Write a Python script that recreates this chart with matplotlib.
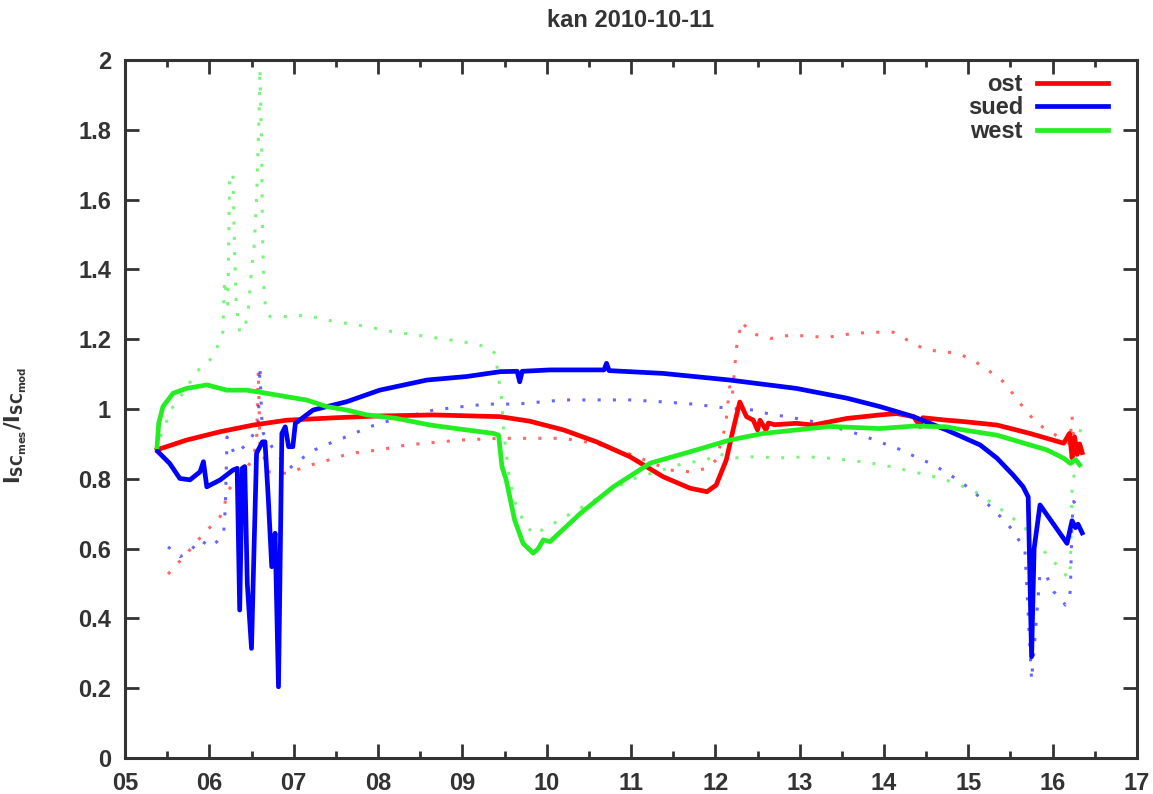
import numpy as np
import matplotlib
matplotlib.use("Agg")
import matplotlib.pyplot as plt
from matplotlib.ticker import MultipleLocator, FuncFormatter

# hours of day, ratio I_SC measured / modelled
ost_t = [5.38, 5.73, 6.13, 6.52, 6.92, 7.5, 8.0, 8.66, 9.45, 9.8, 10.2, 10.59, 10.99,
         11.38, 11.7, 11.9, 12.01, 12.13, 12.21, 12.29, 12.37, 12.45, 12.5, 12.53, 12.6,
         12.63, 12.7, 12.96, 13.16, 13.56, 13.95, 14.15, 14.35, 14.43, 14.46, 14.74,
         14.94, 15.34, 15.73, 15.93, 16.13, 16.2, 16.23, 16.26, 16.29, 16.32, 16.35]
ost_v = [0.883, 0.911, 0.935, 0.954, 0.968, 0.975, 0.98, 0.983, 0.978, 0.965, 0.94, 0.906,
         0.863, 0.806, 0.773, 0.763, 0.782, 0.854, 0.94, 1.02, 0.978, 0.968, 0.94, 0.968,
         0.94, 0.96, 0.955, 0.959, 0.954, 0.973, 0.983, 0.987, 0.978, 0.95, 0.975, 0.968,
         0.964, 0.954, 0.93, 0.916, 0.902, 0.93, 0.86, 0.92, 0.87, 0.9, 0.875]

sued_t = [5.39, 5.53, 5.65, 5.77, 5.89, 5.93, 5.97, 6.13, 6.28, 6.33, 6.36, 6.39, 6.42,
          6.45, 6.5, 6.53, 6.56, 6.63, 6.66, 6.70, 6.74, 6.78, 6.82, 6.86, 6.90, 6.94,
          6.99, 7.02, 7.23, 7.63, 8.02, 8.58, 9.05, 9.45, 9.65, 9.68, 9.71, 10.04, 10.68,
          10.71, 10.74, 11.38, 12.17, 12.96, 13.56, 13.95, 14.35, 14.74, 15.14, 15.34,
          15.53, 15.65, 15.71, 15.75, 15.78, 15.85, 16.01, 16.17, 16.23, 16.27, 16.3, 16.35]
sued_v = [0.878, 0.844, 0.801, 0.797, 0.82, 0.849, 0.777, 0.797, 0.825, 0.83, 0.424, 0.83,
          0.835, 0.5, 0.314, 0.6, 0.873, 0.906, 0.906, 0.74, 0.548, 0.644, 0.204, 0.93,
          0.949, 0.892, 0.892, 0.959, 0.997, 1.021, 1.054, 1.083, 1.093, 1.107, 1.108,
          1.078, 1.108, 1.112, 1.112, 1.131, 1.11, 1.102, 1.083, 1.059, 1.031, 1.007,
          0.978, 0.94, 0.897, 0.859, 0.811, 0.777, 0.748, 0.29, 0.6, 0.725, 0.67, 0.615,
          0.68, 0.66, 0.67, 0.645]

west_t = [5.38, 5.40, 5.45, 5.57, 5.73, 5.97, 6.21, 6.44, 6.68, 6.92, 7.15, 7.39, 7.63,
          7.87, 8.22, 8.62, 9.05, 9.37, 9.43, 9.47, 9.52, 9.62, 9.72, 9.84, 9.9, 9.96,
          10.04, 10.4, 10.79, 11.23, 11.78, 12.17, 12.57, 12.96, 13.36, 13.95, 14.35,
          14.74, 14.94, 15.34, 15.73, 15.93, 16.13, 16.21, 16.27, 16.32]
west_v = [0.892, 0.959, 1.007, 1.045, 1.059, 1.069, 1.054, 1.054, 1.045, 1.035, 1.026,
          1.007, 0.997, 0.983, 0.973, 0.954, 0.94, 0.93, 0.925, 0.835, 0.797, 0.682, 0.615,
          0.587, 0.6, 0.625, 0.62, 0.701, 0.777, 0.845, 0.883, 0.911, 0.93, 0.94, 0.95,
          0.944, 0.951, 0.949, 0.94, 0.925, 0.897, 0.883, 0.859, 0.844, 0.855, 0.84]

# second (dotted) data set
ost2_t = [5.51, 5.59, 5.75, 5.95, 6.11, 6.17, 6.21, 6.3, 6.4, 6.5, 6.56, 6.58, 6.6, 6.7,
          6.94, 7.13, 7.35, 7.67, 8.02, 8.34, 8.74, 9.05, 9.45, 9.92, 10.2, 10.6, 11.0,
          11.46, 11.7, 11.9, 12.01, 12.12, 12.17, 12.2, 12.25, 12.31, 12.43, 12.65, 12.9,
          13.32, 13.56, 13.83, 14.11, 14.35, 14.5, 14.74, 14.92, 15.08, 15.32, 15.46,
          15.55, 15.71, 15.81, 15.91, 16.13, 16.2, 16.23, 16.26, 16.31]
ost2_v = [0.527, 0.548, 0.591, 0.648, 0.684, 0.71, 0.763, 0.79, 0.82, 0.85, 0.9, 1.11,
          0.9, 0.82, 0.815, 0.835, 0.849, 0.873, 0.883, 0.897, 0.906, 0.912, 0.916, 0.916,
          0.916, 0.9, 0.87, 0.825, 0.82, 0.83, 0.854, 0.95, 1.064, 1.035, 1.175, 1.25,
          1.217, 1.202, 1.212, 1.205, 1.214, 1.22, 1.22, 1.188, 1.169, 1.164, 1.155, 1.136,
          1.097, 1.069, 1.035, 0.988, 0.959, 0.944, 0.911, 0.9, 0.978, 0.88, 0.854]

sued2_t = [5.51, 5.65, 5.75, 5.89, 6.01, 6.09, 6.17, 6.19, 6.21, 6.3, 6.45, 6.58, 6.6,
           6.62, 6.64, 6.8, 6.95, 7.07, 7.25, 7.45, 7.67, 7.9, 8.1, 8.34, 8.66, 8.97,
           9.29, 9.64, 10.2, 10.59, 10.99, 11.34, 11.74, 12.15, 12.45, 12.65, 12.85,
           13.16, 13.58, 13.78, 13.99, 14.19, 14.39, 14.59, 14.78, 14.88, 15.06, 15.24,
           15.4, 15.54, 15.61, 15.67, 15.75, 15.85, 15.93, 16.01, 16.11, 16.15, 16.19,
           16.21, 16.23, 16.25, 16.33]
sued2_v = [0.605, 0.577, 0.587, 0.625, 0.605, 0.62, 0.644, 0.72, 0.92, 0.87, 0.9, 0.95,
           1.121, 0.978, 0.93, 0.87, 0.83, 0.854, 0.883, 0.904, 0.925, 0.949, 0.964, 0.978,
           0.997, 1.006, 1.014, 1.014, 1.026, 1.026, 1.026, 1.021, 1.014, 1.002, 0.997,
           0.985, 0.978, 0.964, 0.937, 0.921, 0.902, 0.884, 0.861, 0.84, 0.811, 0.797,
           0.763, 0.725, 0.687, 0.649, 0.62, 0.6, 0.223, 0.529, 0.52, 0.477, 0.453, 0.438,
           0.453, 0.48, 0.68, 0.735, 0.706]

west2_t = [5.42, 5.55, 5.7, 5.85, 6.05, 6.16, 6.18, 6.22, 6.24, 6.28, 6.3, 6.32, 6.36,
           6.42, 6.46, 6.5, 6.53, 6.56, 6.59, 6.6, 6.62, 6.63, 6.65, 6.67, 6.72, 7.0,
           7.13, 7.39, 7.63, 7.87, 8.14, 8.54, 8.85, 9.13, 9.33, 9.39, 9.47, 9.49, 9.54,
           9.56, 9.64, 9.74, 9.85, 9.98, 10.5, 10.99, 11.62, 11.9, 12.01, 12.23, 12.45,
           12.77, 13.08, 13.3, 13.52, 13.73, 13.95, 14.17, 14.7, 14.9, 15.12, 15.46,
           15.63, 15.71, 15.85, 16.05, 16.19, 16.21, 16.23, 16.34]
west2_v = [0.92, 1.0, 1.05, 1.107, 1.15, 1.22, 1.37, 1.3, 1.67, 1.675, 1.45, 1.3, 1.22,
           1.23, 1.28, 1.4, 1.46, 1.6, 1.85, 1.976, 1.75, 1.5, 1.333, 1.279, 1.265, 1.265,
           1.27, 1.255, 1.245, 1.236, 1.223, 1.209, 1.198, 1.188, 1.174, 1.158, 1.021,
           0.935, 0.835, 0.797, 0.72, 0.672, 0.64, 0.658, 0.73, 0.797, 0.844, 0.854,
           0.873, 0.86, 0.863, 0.86, 0.863, 0.86, 0.855, 0.849, 0.841, 0.83, 0.8, 0.782,
           0.758, 0.7, 0.668, 0.649, 0.605, 0.553, 0.515, 0.548, 0.768, 0.959]

red, blue, green = "#ff0000", "#0000ff", "#22ee22"
ink = "#333333"

plt.rcParams["font.family"] = ["Liberation Sans", "DejaVu Sans"]
plt.rcParams["font.weight"] = "bold"
plt.rcParams["mathtext.default"] = "regular"
fig = plt.figure(figsize=(11.53, 7.94), dpi=100)
ax = fig.add_axes([125 / 1153, 36 / 794, 1012 / 1153, 698 / 794])

dots = dict(linestyle=(0, (1, 4)), linewidth=2.2, alpha=0.6, dash_capstyle="butt")
ax.plot(ost2_t, ost2_v, color=red, **dots)
ax.plot(sued2_t, sued2_v, color=blue, **dots)
ax.plot(west2_t, west2_v, color=green, **dots)

ax.plot(ost_t, ost_v, color=red, lw=3.4, label="ost")
ax.plot(sued_t, sued_v, color=blue, lw=3.4, label="sued")
ax.plot(west_t, west_v, color=green, lw=3.4, label="west")

ax.set_xlim(5, 17)
ax.set_ylim(0, 2)
ax.xaxis.set_major_locator(MultipleLocator(1))
ax.xaxis.set_minor_locator(MultipleLocator(0.5))
ax.yaxis.set_major_locator(MultipleLocator(0.2))
ax.xaxis.set_major_formatter(FuncFormatter(lambda v, p: "%02d" % round(v)))
ax.yaxis.set_major_formatter(FuncFormatter(lambda v, p: ("%.1f" % v).rstrip("0").rstrip(".")))

ax.tick_params(which="both", direction="in", top=True, right=True, colors=ink,
               labelsize=17, width=2)
ax.tick_params(which="major", length=10, pad=10)
ax.tick_params(which="minor", length=5)
for s in ax.spines.values():
    s.set_color(ink)
    s.set_linewidth(2.2)

ax.set_title("kan 2010-10-11", fontsize=17, fontweight="bold", color=ink, pad=24)
ax.set_ylabel(r"$\mathbf{I_{SC_{mes}}/I_{SC_{mod}}}$", fontsize=15, color=ink)
ax.yaxis.set_label_coords(-0.095, 0.477)

leg = ax.legend(loc="upper right", bbox_to_anchor=(1108 / 1153, 1 - 73 / 794),
                bbox_transform=fig.transFigure, frameon=False, markerfirst=False,
                handlelength=3.0, handletextpad=0.6, labelspacing=0.02, borderpad=0,
                borderaxespad=0, fontsize=17)
for t in leg.get_texts():
    t.set_color(ink)

fig.savefig("out.png", dpi=100)
